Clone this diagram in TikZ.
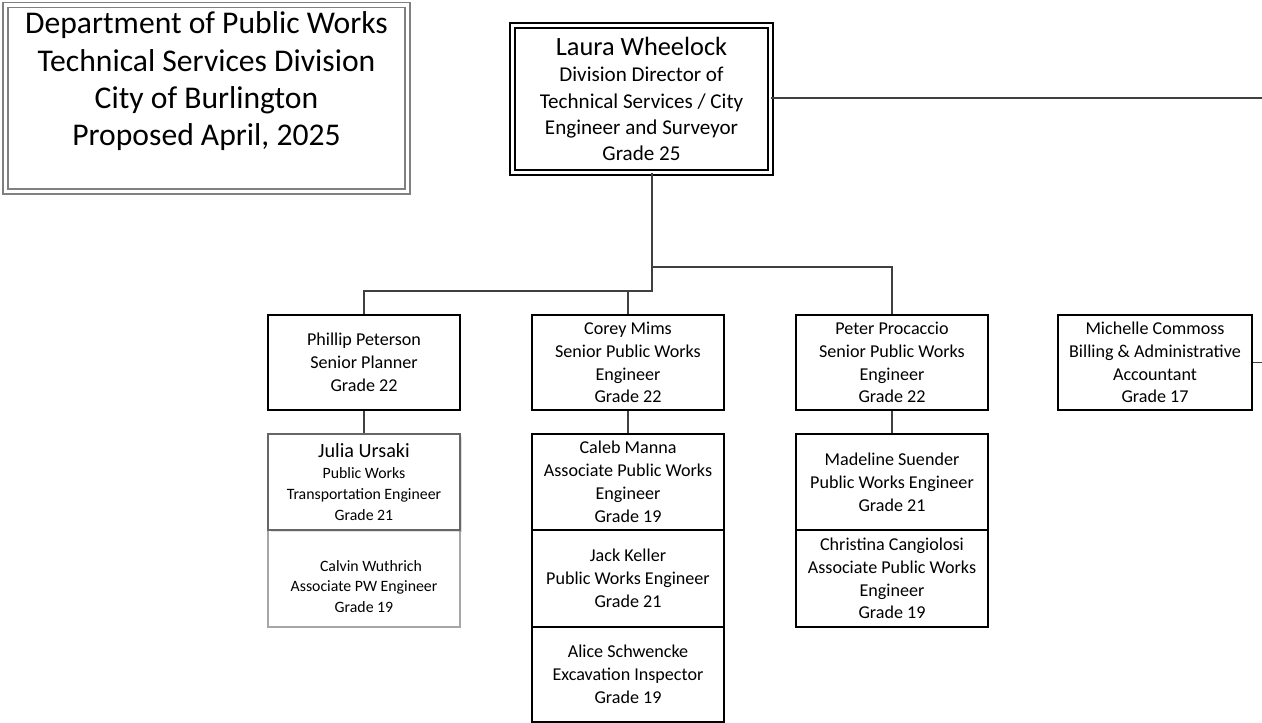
\documentclass[tikz,border=0pt]{standalone}
\usepackage{fontspec}
\setmainfont{Carlito}
\usetikzlibrary{shadows}

\tikzset{
  post/.style={draw, line width=1.1pt, minimum width=3.84cm, minimum height=1.9cm,
    inner sep=1pt, align=center, font=\fontsize{10.3}{13}\selectfont},
  link/.style={draw=black!75, line width=1.1pt},
}

\begin{document}
\begin{tikzpicture}[x=0.02cm, y=-0.02cm]
\useasboundingbox (0,0) rectangle (1262,723);

% heading and director
\node[draw=black!50, line width=0.7pt, double, double distance=2.1pt, minimum width=8.04cm,
  minimum height=3.73cm, align=center, font=\fontsize{18}{21.3}\selectfont] (title) at (206.5,98.25)
  {Department of Public Works\\Technical Services Division\\City of Burlington\\Proposed April, 2025\\[-5.6pt]\strut};
\node[post, line width=1pt, double, double distance=1.8pt, minimum width=5.16cm, minimum height=2.94cm,
  font=\fontsize{12}{15}\selectfont] (laura) at (641.5,99)
  {{\fontsize{15}{18}\selectfont Laura Wheelock}\\Division Director of\\Technical Services / City\\Engineer and Surveyor\\Grade 25};

% senior row
\node[post] (phillip) at (364,362.5) {Phillip Peterson\\Senior Planner\\Grade 22};
\node[post] (corey) at (628,362.5) {Corey Mims\\Senior Public Works\\Engineer\\Grade 22};
\node[post] (peter) at (892,362.5) {Peter Procaccio\\Senior Public Works\\Engineer\\Grade 22};
\node[post, minimum width=3.88cm] (michelle) at (1155,362.5) {Michelle Commoss\\Billing \& Administrative\\Accountant\\Grade 17};

% staff under Phillip
\node[post, draw=black!35, line width=0.6pt, minimum height=1.94cm, font=\fontsize{9}{11.6}\selectfont] (calvin) at (364,578.5)
  {\rule{0pt}{15pt}\hspace*{0.28cm}Calvin Wuthrich\\Associate PW Engineer\\Grade 19};
\node[post, draw=black!60, line width=0.7pt, fill=white, minimum height=1.92cm,
  drop shadow={shadow xshift=0.05cm, shadow yshift=-0.05cm, opacity=0.25},
  font=\fontsize{9}{12}\selectfont] (julia) at (364,482)
  {{\fontsize{11.5}{14}\selectfont Julia Ursaki}\\Public Works\\Transportation Engineer\\Grade 21};

% staff under Corey
\node[post, minimum height=1.92cm] (caleb) at (628,482) {Caleb Manna\\Associate Public Works\\Engineer\\Grade 19};
\node[post, minimum height=1.94cm] (jack) at (628,578.5) {Jack Keller\\Public Works Engineer\\Grade 21};
\node[post] (alice) at (628,674.5) {Alice Schwencke\\Excavation Inspector\\Grade 19};

% staff under Peter
\node[post, minimum height=1.92cm] (madeline) at (892,482) {Madeline Suender\\Public Works Engineer\\Grade 21};
\node[post, minimum height=1.94cm] (christina) at (892,578.5) {Christina Cangiolosi\\Associate Public Works\\Engineer\\Grade 19};

% connectors
\coordinate (rim) at (1262,98);
\coordinate (fork) at (652,291);
\coordinate (forkr) at (652,267);
\draw[link] (laura.south -| fork) -- (fork) -| (phillip.north);
\draw[link] (corey.north |- fork) -- (corey.north);
\draw[link] (forkr) -| (peter.north);
\draw[link] (laura.east |- rim) -- (rim);
\draw[link] (michelle.east) -- (michelle.east -| rim);
\draw[link] (phillip) -- (julia);
\draw[link] (corey) -- (caleb);
\draw[link] (peter) -- (madeline);
\end{tikzpicture}
\end{document}
